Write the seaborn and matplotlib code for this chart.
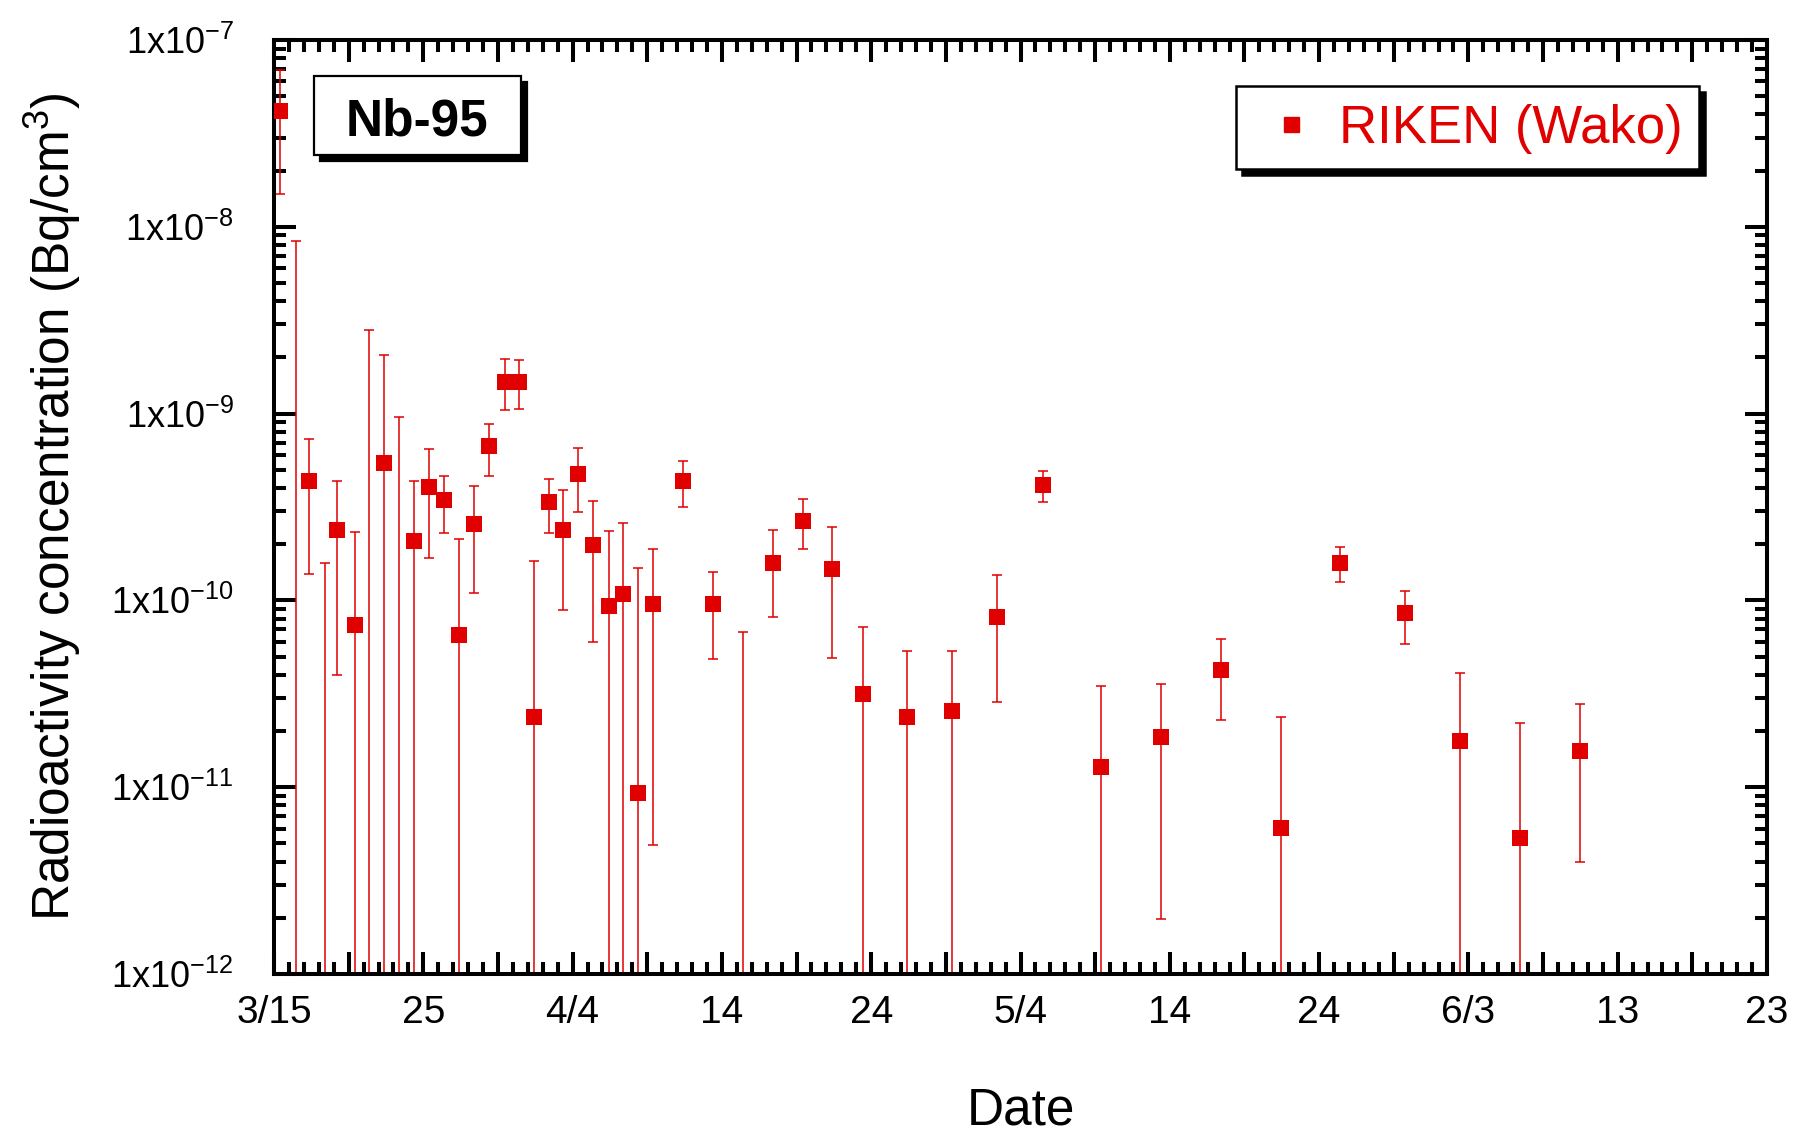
import numpy as np
import pandas as pd
import matplotlib
matplotlib.use("Agg")
import matplotlib.pyplot as plt
import matplotlib.ticker as mticker
from matplotlib.patches import Rectangle
from matplotlib.transforms import offset_copy
import seaborn as sns

# Nb-95 airborne concentration measured at RIKEN (Wako), 2011.
# Sampling time in days after 3/15 00:00; concentration and 1-sigma band in Bq/cm3.
# Samples whose result falls below 1e-12 keep only the upper part of their bar visible.
sampling_day = [0.42, 1.50, 2.34, 3.39, 4.24, 5.40, 6.39, 7.37, 8.39, 9.38,
                10.38, 11.41, 12.39, 13.42, 14.40, 15.45, 16.41, 17.39, 18.42, 19.36,
                20.38, 21.39, 22.44, 23.38, 24.40, 25.39, 27.42, 29.43, 31.41, 33.40,
                35.43, 37.40, 39.43, 42.40, 45.44, 48.43, 51.51, 55.41, 59.43, 63.45,
                67.47, 71.42, 75.77, 79.46, 83.43, 87.45]
concentration = [4.15e-8, 5e-13, 4.34e-10, 5e-13, 2.38e-10, 7.38e-11, 5e-13, 5.42e-10, 5e-13, 2.07e-10,
                 4.05e-10, 3.45e-10, 6.5e-11, 2.56e-10, 6.71e-10, 1.47e-9, 1.47e-9, 2.38e-11, 3.37e-10, 2.37e-10,
                 4.73e-10, 1.97e-10, 9.37e-11, 1.08e-10, 9.27e-12, 9.53e-11, 4.34e-10, 9.53e-11, 5e-13, 1.58e-10,
                 2.65e-10, 1.47e-10, 3.14e-11, 2.37e-11, 2.56e-11, 8.14e-11, 4.13e-10, 1.28e-11, 1.86e-11, 4.23e-11,
                 6.03e-12, 1.58e-10, 8.53e-11, 1.77e-11, 5.32e-12, 1.57e-11]
upper_bound = [6.9e-8, 8.4e-9, 7.35e-10, 1.59e-10, 4.35e-10, 2.33e-10, 2.8e-9, 2.05e-9, 9.6e-10, 4.35e-10,
               6.45e-10, 4.66e-10, 2.14e-10, 4.08e-10, 8.8e-10, 1.95e-9, 1.93e-9, 1.63e-10, 4.49e-10, 3.88e-10,
               6.56e-10, 3.39e-10, 2.34e-10, 2.59e-10, 1.49e-10, 1.88e-10, 5.56e-10, 1.42e-10, 6.75e-11, 2.37e-10,
               3.49e-10, 2.48e-10, 7.23e-11, 5.36e-11, 5.36e-11, 1.36e-10, 4.94e-10, 3.48e-11, 3.56e-11, 6.24e-11,
               2.39e-11, 1.93e-10, 1.12e-10, 4.07e-11, 2.22e-11, 2.79e-11]
lower_bound = [1.49e-8, 1e-13, 1.38e-10, 1e-13, 4.0e-11, 1e-13, 1e-13, 1e-13, 1e-13, 1e-13,
               1.69e-10, 2.29e-10, 1e-13, 1.09e-10, 4.66e-10, 1.04e-9, 1.06e-9, 1e-13, 2.29e-10, 8.9e-11,
               2.99e-10, 5.97e-11, 1e-13, 1e-13, 1e-13, 4.91e-12, 3.16e-10, 4.84e-11, 1e-13, 8.1e-11,
               1.88e-10, 4.93e-11, 1e-13, 1e-13, 1e-13, 2.87e-11, 3.37e-10, 1e-13, 1.98e-12, 2.28e-11,
               1e-13, 1.25e-10, 5.87e-11, 1e-13, 1e-13, 3.98e-12]

date_tick_days = [0, 10, 20, 30, 40, 50, 60, 70, 80, 90, 100]
date_tick_labels = ["3/15", "25", "4/4", "14", "24", "5/4", "14", "24", "6/3", "13", "23"]

nuclide = "Nb-95"
site = "RIKEN (Wako)"

df = pd.DataFrame({"day": sampling_day, "conc": concentration,
                   "hi": upper_bound, "lo": lower_bound})

sns.set_style("ticks")
plt.rcParams["font.family"] = ["Liberation Sans", "DejaVu Sans"]
plt.rcParams["mathtext.fontset"] = "custom"
plt.rcParams["mathtext.rm"] = "Liberation Sans"
plt.rcParams["mathtext.it"] = "Liberation Sans:italic"
plt.rcParams["mathtext.bf"] = "Liberation Sans:bold"
for key in ("text.color", "axes.labelcolor", "xtick.color", "ytick.color",
            "xtick.labelcolor", "ytick.labelcolor", "axes.edgecolor"):
    plt.rcParams[key] = "black"

RED = "#e00000"
W, H = 1798, 1134
fig = plt.figure(figsize=(W / 100, H / 100), dpi=100)
ax = fig.add_axes([274 / W, 1 - 974 / H, 1493 / W, 934 / H])

ax.errorbar(df["day"], df["conc"],
            yerr=[df["conc"] - df["lo"], df["hi"] - df["conc"]],
            fmt="none", ecolor=RED, elinewidth=1.1, capsize=3.8, capthick=1.1,
            zorder=2)
sns.scatterplot(data=df, x="day", y="conc", marker="s", s=118, color=RED,
                linewidth=0, ax=ax, zorder=3, legend=False)

ax.set_yscale("log")
ax.set_ylim(1e-12, 1e-7)
ax.set_xlim(0, 100)

# x axis: long ticks every 5 days, labels every 10, short ticks daily
major_x = list(range(0, 101, 5))
lab_map = dict(zip(date_tick_days, date_tick_labels))
ax.set_xticks(major_x)
ax.set_xticklabels([lab_map.get(d, "") for d in major_x])
ax.xaxis.set_minor_locator(mticker.MultipleLocator(1))

ax.yaxis.set_major_locator(mticker.LogLocator(base=10, numticks=10))
ax.yaxis.set_minor_locator(mticker.LogLocator(base=10, subs=np.arange(2, 10), numticks=20))
ax.yaxis.set_minor_formatter(mticker.NullFormatter())
ax.yaxis.set_major_formatter(mticker.FuncFormatter(
    lambda v, _: r"$\mathregular{1x10^{%d}}$" % int(round(np.log10(v)))))

for s in ax.spines.values():
    s.set_linewidth(2.9)
    s.set_color("black")
    s.set_visible(True)

ax.tick_params(which="both", direction="in", top=True, right=True,
               width=2.9, color="black")
ax.tick_params(which="major", length=16)
ax.tick_params(which="minor", length=8.5)
ax.tick_params(axis="x", which="major", labelsize=28, pad=15, labelcolor="black")
ax.tick_params(axis="y", which="major", labelsize=26, pad=29, labelcolor="black")

ax.set_xlabel("Date", fontsize=37, labelpad=40, color="black")
ax.set_ylabel(r"Radioactivity concentration (Bq/cm$^3$)", fontsize=37,
              labelpad=20, color="black")

# boxes with a solid drop shadow
def shadow_box(x0, y0, x1, y1, lw):
    sh = offset_copy(ax.transAxes, fig=fig, x=6, y=-6, units="dots")
    ax.add_patch(Rectangle((x0, y0), x1 - x0, y1 - y0, transform=sh,
                           facecolor="black", edgecolor="black", lw=lw,
                           zorder=4, clip_on=False))
    ax.add_patch(Rectangle((x0, y0), x1 - x0, y1 - y0, transform=ax.transAxes,
                           facecolor="white", edgecolor="black", lw=lw,
                           zorder=5, clip_on=False))

def ax_x(px):
    return (px - 274) / 1493

def ax_y(py):
    return (974 - py) / 934

shadow_box(ax_x(314), ax_y(155), ax_x(521), ax_y(76), 1.6)
ax.text(ax_x(417), ax_y(116), nuclide, transform=ax.transAxes, fontsize=37,
        fontweight="bold", color="black", ha="center", va="center_baseline",
        zorder=6)

shadow_box(ax_x(1236), ax_y(169), ax_x(1699), ax_y(86), 1.8)
ax.plot([ax_x(1291)], [ax_y(124)], marker="s", markersize=10.8, color=RED,
        linestyle="none", transform=ax.transAxes, zorder=6, clip_on=False)
ax.text(ax_x(1339), ax_y(124), site, transform=ax.transAxes, fontsize=38,
        color=RED, ha="left", va="center_baseline", zorder=6)

fig.savefig("out.png", dpi=100, facecolor="white")
